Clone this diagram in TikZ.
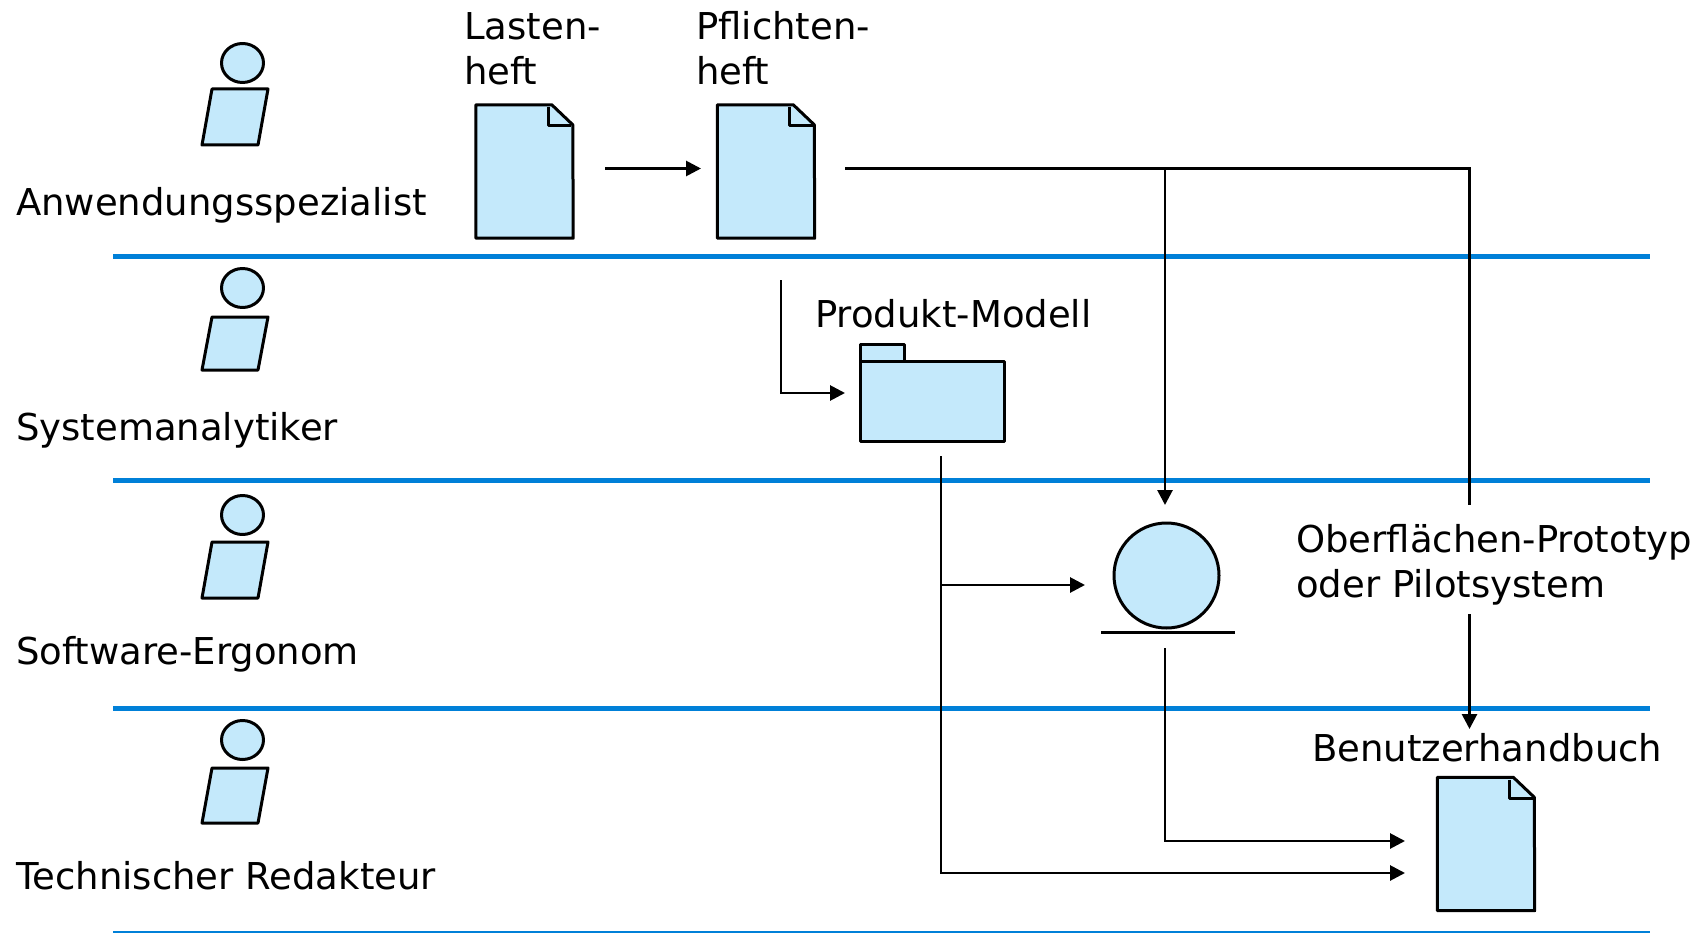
\documentclass[tikz,border=0pt]{standalone}
\usepackage{fontspec}
\setmainfont{DejaVu Sans}
\usetikzlibrary{arrows.meta,shapes.geometric}
\definecolor{iconfill}{HTML}{C4E9FB}
\definecolor{laneblue}{HTML}{0080D8}
\begin{document}
\begin{tikzpicture}[x=1pt,y=-1pt,>={Triangle[length=15pt,width=15pt]}]
	\tikzstyle{lane} = [draw=laneblue, line width=5pt]
	\tikzstyle{icon} = [draw=black, line width=3pt, fill=iconfill, line join=round]
	\tikzstyle{docbox} = [rectangle, minimum width=97pt, minimum height=133pt, inner sep=0pt]
	\tikzstyle{label} = [anchor=base west, inner sep=0pt, font=\fontsize{37}{45}\selectfont]
	\tikzstyle{flow} = [draw=black, line width=2.8pt]
	\useasboundingbox (0,0) rectangle (1704,933);
	% swimlane rules
	\foreach \n/\y in {a/256.5, b/480.5, c/708.5, d/933}
		\draw [lane] (113,\y) coordinate (\n west) -- (1650,\y) coordinate (\n east);
	% roles
	\foreach \n/\hy/\ty/\by/\t/\ly in {
		anwendung/63/89/145/Anwendungsspezialist/216,
		analytiker/288/317/370/Systemanalytiker/440,
		ergonom/515/542/598/Software-Ergonom/664,
		redakteur/740/768/823/Technischer Redakteur/889} {
		\node [ellipse, icon, minimum width=42pt, minimum height=39pt, inner sep=0pt] (\n) at (242.5,\hy) {};
		\draw [icon] (212,\ty) -- (268,\ty) -- (258,\by) -- (202,\by) -- cycle;
		\node [label] (\n text) at (16,\ly) {\t};
	}
	% documents
	\foreach \n/\x/\y in {lasten/476/105, pflichten/717.5/105, handbuch/1437.5/777.5} {
		\node [docbox] (\n) at (\x+48.5,\y+66.5) {};
		\draw [icon] (\n.north west) -- ++(76,0) -- ++(21,20) -- (\n.south east) -- (\n.south west) -- cycle;
		\draw [icon, fill=none] (\x+72,\y+2) -- (\x+72,\y+21) -- (\x+95,\y+21);
	}
	\node [label] (lastentext) at (464,40) {Lasten-};
	\node [label] (lastentextb) at (464,85) {heft};
	\node [label] (pflichtentext) at (696,40) {Pflichten-};
	\node [label] (pflichtentextb) at (696,85) {heft};
	\node [label] (handbuchtext) at (1312,761) {Benutzerhandbuch};
	% package
	\node [rectangle, icon, minimum width=144pt, minimum height=80pt, inner sep=0pt] (modell) at (932.5,401) {};
	\node [rectangle, icon, minimum width=44pt, minimum height=17pt, inner sep=0pt] (modelltab) at (882.5,353) {};
	\node [label] (modelltext) at (815,327) {Produkt-Modell};
	% prototype
	\node [circle, icon, minimum size=105pt, inner sep=0pt] (prototyp) at (1166.5,575.5) {};
	\draw [draw=black, line width=3pt] (1101,632) coordinate (barL) -- (1235,632) coordinate (barR);
	\node [label] (prototyptext) at (1296,552) {Oberflächen-Prototyp};
	\node [label] (prototyptextb) at (1296,597) {oder Pilotsystem};
	% connector ends
	\coordinate (lastenOut) at (605,168.5);
	\coordinate (pflichtenIn) at (701,168.5);
	\coordinate (pflichtenOut) at (845,168.5);
	\coordinate (branch) at (1165,168.5);
	\coordinate (prototypIn) at (1165,505);
	\coordinate (textTop) at (1469.5,505);
	\coordinate (textBottom) at (1469.5,614);
	\coordinate (handbuchTop) at (1469.5,729);
	\coordinate (analyseStart) at (781,280);
	\coordinate (modellIn) at (845,393);
	\coordinate (modellOut) at (941,456);
	\coordinate (prototypLeft) at (1085,585);
	\coordinate (handbuchLow) at (1405,873);
	\coordinate (prototypOut) at (1165,648);
	\coordinate (handbuchHigh) at (1405,841);
	% connectors
	\draw [flow, ->] (lastenOut) to (pflichtenIn);
	\draw [flow] (pflichtenOut) -| (textTop);
	\draw [flow, ->] (textBottom) to (handbuchTop);
	\draw [flow, ->] (branch) to (prototypIn);
	\draw [flow, ->] (analyseStart) |- (modellIn);
	\draw [flow, ->] (modellOut) |- (handbuchLow);
	\draw [flow, ->] (modellOut |- prototypLeft) to (prototypLeft);
	\draw [flow, ->] (prototypOut) |- (handbuchHigh);
\end{tikzpicture}
\end{document}
